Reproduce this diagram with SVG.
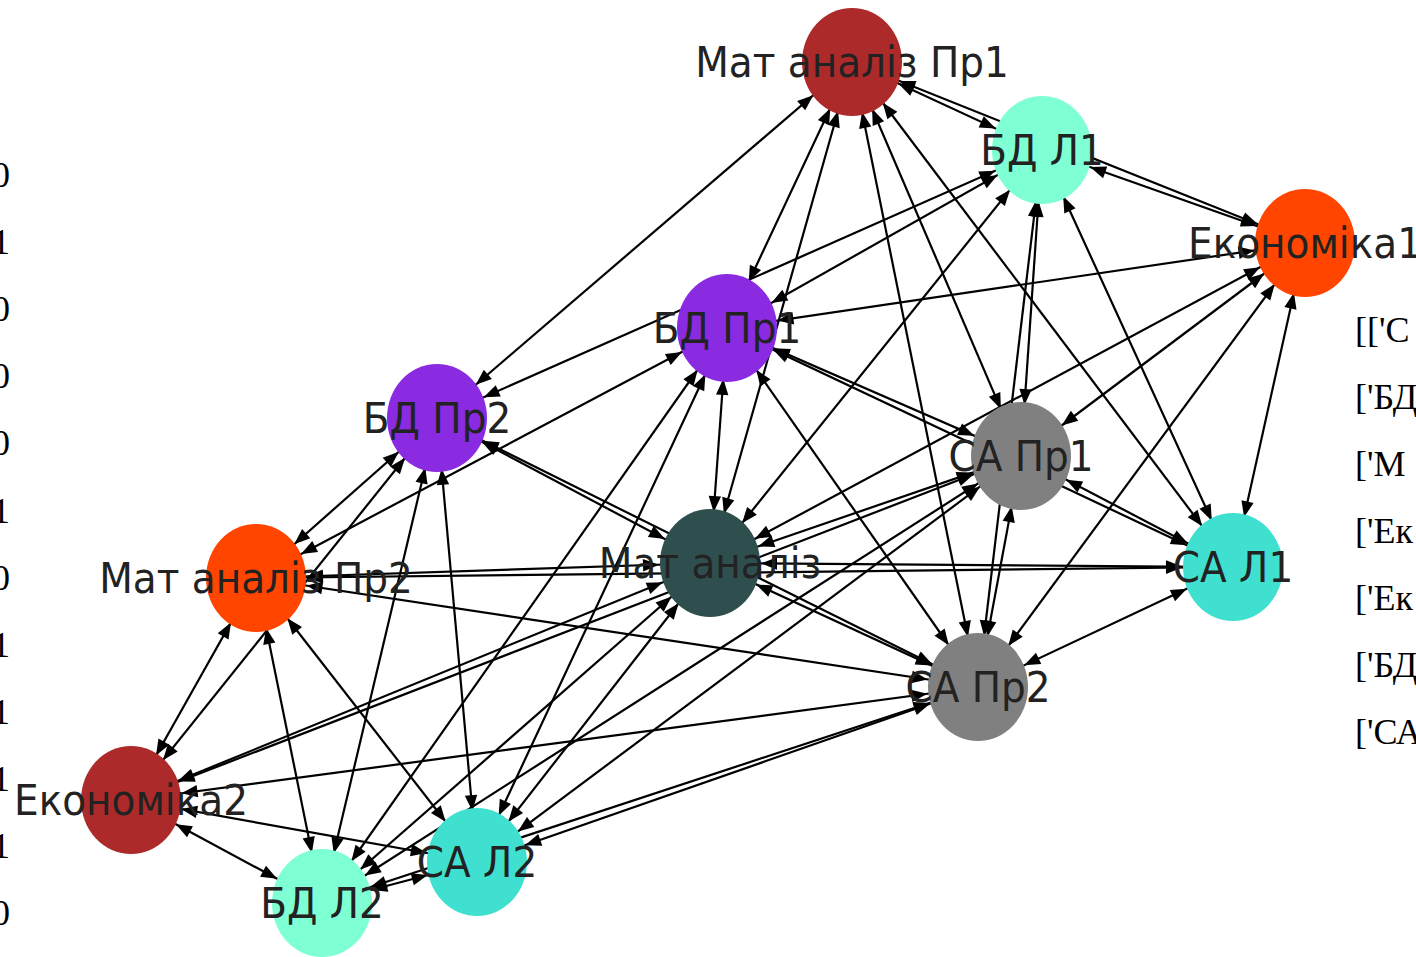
<svg xmlns="http://www.w3.org/2000/svg" width="1416" height="957" viewBox="0 0 1416 957">
  <style>
    .e { stroke: #000; stroke-width: 2.2; fill: none; marker-start: url(#ah); marker-end: url(#ah); }
    .lbl { font-family: "DejaVu Sans", "Noto Sans", sans-serif; font-size: 39px; fill: #222; text-anchor: middle; }
    .num { font-family: "Liberation Serif", "Times New Roman", serif; font-size: 36px; fill: #000; }
    .brown { fill: #ad2a2a; }
    .aqua { fill: #7fffd4; }
    .orange { fill: #ff4500; }
    .violet { fill: #8a2be2; }
    .grey { fill: #808080; }
    .slate { fill: #2f4f4f; }
    .turq { fill: #40e0d0; }
  </style>
  <defs>
    <!-- arrowhead drawn 51px back from the line end so it touches the node rim -->
    <marker id="ah" markerUnits="userSpaceOnUse" orient="auto-start-reverse" refX="51" refY="0" markerWidth="20" markerHeight="14" overflow="visible">
      <path d="M0,0 L-16,-6.2 L-16,6.2 Z" fill="#000"/>
    </marker>
  </defs>
  <rect width="1416" height="957" fill="#fff"/>

  <!-- matrix column, left edge -->
  <g id="matrix-column">
    <text class="num" x="-8" y="187">0</text>
    <text class="num" x="-8" y="254">1</text>
    <text class="num" x="-8" y="321">0</text>
    <text class="num" x="-8" y="388">0</text>
    <text class="num" x="-8" y="455">0</text>
    <text class="num" x="-8" y="523">1</text>
    <text class="num" x="-8" y="590">0</text>
    <text class="num" x="-8" y="657">1</text>
    <text class="num" x="-8" y="724">1</text>
    <text class="num" x="-8" y="791">1</text>
    <text class="num" x="-8" y="858">1</text>
    <text class="num" x="-8" y="925">0</text>
  </g>

  <!-- group list, right edge -->
  <g id="group-list">
    <text class="num" x="1355" y="342">[['С</text>
    <text class="num" x="1355" y="409">['БД</text>
    <text class="num" x="1355" y="476">['М</text>
    <text class="num" x="1355" y="543">['Ек</text>
    <text class="num" x="1355" y="610">['Ек</text>
    <text class="num" x="1355" y="677">['БД</text>
    <text class="num" x="1355" y="744">['СА</text>
  </g>

  <g id="edges">
    <!-- Мат аналіз Пр1 -->
    <line class="e" x1="852" y1="62" x2="1042" y2="150"/>
    <line class="e" x1="852" y1="62" x2="1305" y2="243"/>
    <line class="e" x1="852" y1="62" x2="727" y2="328"/>
    <line class="e" x1="852" y1="62" x2="437" y2="418"/>
    <line class="e" x1="852" y1="62" x2="1021" y2="456"/>
    <line class="e" x1="852" y1="62" x2="710" y2="563"/>
    <line class="e" x1="852" y1="62" x2="1233" y2="567"/>
    <line class="e" x1="852" y1="62" x2="978" y2="687"/>
    <!-- БД Л1 -->
    <line class="e" x1="1042" y1="150" x2="1305" y2="243"/>
    <line class="e" x1="1042" y1="150" x2="727" y2="328"/>
    <line class="e" x1="1042" y1="150" x2="437" y2="418"/>
    <line class="e" x1="1042" y1="150" x2="1021" y2="456"/>
    <line class="e" x1="1042" y1="150" x2="710" y2="563"/>
    <line class="e" x1="1042" y1="150" x2="1233" y2="567"/>
    <line class="e" x1="1042" y1="150" x2="978" y2="687"/>
    <!-- Економіка1 -->
    <line class="e" x1="1305" y1="243" x2="727" y2="328"/>
    <line class="e" x1="1305" y1="243" x2="1021" y2="456"/>
    <line class="e" x1="1305" y1="243" x2="710" y2="563"/>
    <line class="e" x1="1305" y1="243" x2="1233" y2="567"/>
    <line class="e" x1="1305" y1="243" x2="978" y2="687"/>
    <!-- БД Пр1 -->
    <line class="e" x1="727" y1="328" x2="1021" y2="456"/>
    <line class="e" x1="727" y1="328" x2="710" y2="563"/>
    <line class="e" x1="727" y1="328" x2="1233" y2="567"/>
    <line class="e" x1="727" y1="328" x2="256" y2="578"/>
    <line class="e" x1="727" y1="328" x2="978" y2="687"/>
    <line class="e" x1="727" y1="328" x2="477" y2="862"/>
    <line class="e" x1="727" y1="328" x2="322" y2="903"/>
    <!-- БД Пр2 -->
    <line class="e" x1="437" y1="418" x2="710" y2="563"/>
    <line class="e" x1="437" y1="418" x2="256" y2="578"/>
    <line class="e" x1="437" y1="418" x2="978" y2="687"/>
    <line class="e" x1="437" y1="418" x2="131" y2="800"/>
    <line class="e" x1="437" y1="418" x2="477" y2="862"/>
    <line class="e" x1="437" y1="418" x2="322" y2="903"/>
    <!-- СА Пр1 -->
    <line class="e" x1="1021" y1="456" x2="710" y2="563"/>
    <line class="e" x1="1021" y1="456" x2="1233" y2="567"/>
    <line class="e" x1="1021" y1="456" x2="978" y2="687"/>
    <line class="e" x1="1021" y1="456" x2="131" y2="800"/>
    <line class="e" x1="1021" y1="456" x2="477" y2="862"/>
    <line class="e" x1="1021" y1="456" x2="322" y2="903"/>
    <!-- Мат аналіз -->
    <line class="e" x1="710" y1="563" x2="1233" y2="567"/>
    <line class="e" x1="710" y1="563" x2="256" y2="578"/>
    <line class="e" x1="710" y1="563" x2="978" y2="687"/>
    <line class="e" x1="710" y1="563" x2="131" y2="800"/>
    <line class="e" x1="710" y1="563" x2="477" y2="862"/>
    <line class="e" x1="710" y1="563" x2="322" y2="903"/>
    <!-- СА Л1 -->
    <line class="e" x1="1233" y1="567" x2="256" y2="578"/>
    <line class="e" x1="1233" y1="567" x2="978" y2="687"/>
    <!-- Мат аналіз Пр2 -->
    <line class="e" x1="256" y1="578" x2="978" y2="687"/>
    <line class="e" x1="256" y1="578" x2="131" y2="800"/>
    <line class="e" x1="256" y1="578" x2="477" y2="862"/>
    <line class="e" x1="256" y1="578" x2="322" y2="903"/>
    <!-- СА Пр2 -->
    <line class="e" x1="978" y1="687" x2="131" y2="800"/>
    <line class="e" x1="978" y1="687" x2="477" y2="862"/>
    <line class="e" x1="978" y1="687" x2="322" y2="903"/>
    <!-- Економіка2 -->
    <line class="e" x1="131" y1="800" x2="477" y2="862"/>
    <line class="e" x1="131" y1="800" x2="322" y2="903"/>
    <!-- СА Л2 -->
    <line class="e" x1="477" y1="862" x2="322" y2="903"/>
  </g>

  <g id="n-mat-analiz-pr1">
    <ellipse class="brown" cx="852" cy="62" rx="50" ry="54"/>
    <text class="lbl" transform="translate(852,62) scale(1,1.08)" y="14">Мат аналіз Пр1</text>
  </g>
  <g id="n-bd-l1">
    <ellipse class="aqua" cx="1042" cy="150" rx="50" ry="54"/>
    <text class="lbl" transform="translate(1042,150) scale(1,1.08)" y="14">БД Л1</text>
  </g>
  <g id="n-ekonomika1">
    <ellipse class="orange" cx="1305" cy="243" rx="50" ry="54"/>
    <text class="lbl" transform="translate(1305,243) scale(1,1.08)" y="14">Економіка1</text>
  </g>
  <g id="n-bd-pr1">
    <ellipse class="violet" cx="727" cy="328" rx="50" ry="54"/>
    <text class="lbl" transform="translate(727,328) scale(1,1.08)" y="14">БД Пр1</text>
  </g>
  <g id="n-bd-pr2">
    <ellipse class="violet" cx="437" cy="418" rx="50" ry="54"/>
    <text class="lbl" transform="translate(437,418) scale(1,1.08)" y="14">БД Пр2</text>
  </g>
  <g id="n-sa-pr1">
    <ellipse class="grey" cx="1021" cy="456" rx="50" ry="54"/>
    <text class="lbl" transform="translate(1021,456) scale(1,1.08)" y="14">СА Пр1</text>
  </g>
  <g id="n-mat-analiz">
    <ellipse class="slate" cx="710" cy="563" rx="50" ry="54"/>
    <text class="lbl" transform="translate(710,563) scale(1,1.08)" y="14">Мат аналіз</text>
  </g>
  <g id="n-sa-l1">
    <ellipse class="turq" cx="1233" cy="567" rx="50" ry="54"/>
    <text class="lbl" transform="translate(1233,567) scale(1,1.08)" y="14">СА Л1</text>
  </g>
  <g id="n-mat-analiz-pr2">
    <ellipse class="orange" cx="256" cy="578" rx="50" ry="54"/>
    <text class="lbl" transform="translate(256,578) scale(1,1.08)" y="14">Мат аналіз Пр2</text>
  </g>
  <g id="n-sa-pr2">
    <ellipse class="grey" cx="978" cy="687" rx="50" ry="54"/>
    <text class="lbl" transform="translate(978,687) scale(1,1.08)" y="14">СА Пр2</text>
  </g>
  <g id="n-ekonomika2">
    <ellipse class="brown" cx="131" cy="800" rx="50" ry="54"/>
    <text class="lbl" transform="translate(131,800) scale(1,1.08)" y="14">Економіка2</text>
  </g>
  <g id="n-sa-l2">
    <ellipse class="turq" cx="477" cy="862" rx="50" ry="54"/>
    <text class="lbl" transform="translate(477,862) scale(1,1.08)" y="14">СА Л2</text>
  </g>
  <g id="n-bd-l2">
    <ellipse class="aqua" cx="322" cy="903" rx="50" ry="54"/>
    <text class="lbl" transform="translate(322,903) scale(1,1.08)" y="14">БД Л2</text>
  </g>
</svg>
